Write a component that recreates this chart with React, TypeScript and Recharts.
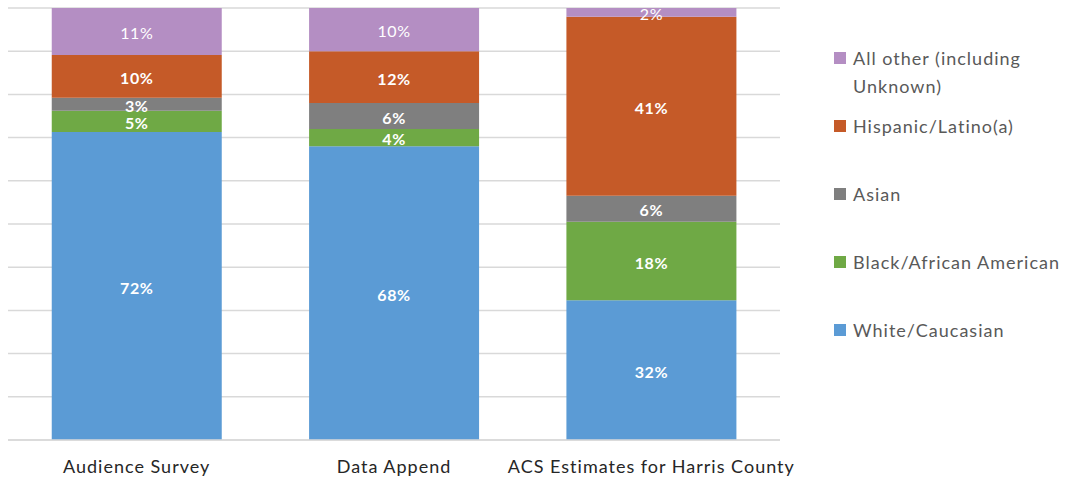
import { BarChart, Bar, XAxis, YAxis, CartesianGrid } from 'recharts';

const categories = ['Audience Survey', 'Data Append', 'ACS Estimates for Harris County'];
const white = [72, 68, 32];
const black = [5, 4, 18];
const asian = [3, 6, 6];
const hispanic = [10, 12, 41];
const other = [11, 10, 2];
const gridTicks = [0, 0.1, 0.2, 0.3, 0.4, 0.5, 0.6, 0.7, 0.8, 0.9, 1];

const series = [
  { key: 'white', name: 'White/Caucasian', color: '#5b9bd5', values: white, bold: true },
  { key: 'black', name: 'Black/African American', color: '#6fa945', values: black, bold: true },
  { key: 'asian', name: 'Asian', color: '#7f7f7f', values: asian, bold: true },
  { key: 'hispanic', name: 'Hispanic/Latino(a)', color: '#c55a28', values: hispanic, bold: true },
  { key: 'other', name: 'All other (including Unknown)', color: '#b48ec3', values: other, bold: false },
];

const data = categories.map((name, i) => {
  const row: Record<string, string | number> = { name };
  series.forEach((s) => {
    row[s.key] = s.values[i];
  });
  return row;
});

const FONT = 'Lato, "Open Sans", sans-serif';

function makeLabel(values: number[], bold: boolean) {
  return (props: any) => {
    const { x, y, width, height, index } = props;
    return (
      <text
        x={Number(x) + Number(width) / 2}
        y={Number(y) + Number(height) / 2 + 1}
        textAnchor="middle"
        dominantBaseline="central"
        fill="#ffffff"
        fontSize={16}
        fontWeight={bold ? 700 : 400}
        fontFamily={FONT}
        letterSpacing={0.6}
      >
        {values[index]}%
      </text>
    );
  };
}

// legend drawn as plain html next to the chart, top item first
function LegendBox() {
  const items = [...series].reverse();
  return (
    <div
      style={{
        position: 'absolute',
        left: 834,
        top: 44,
        fontFamily: FONT,
        fontSize: 18,
        color: '#595959',
        letterSpacing: 1,
      }}
    >
      {items.map((s, i) => (
        <div
          key={s.key}
          style={{
            position: 'absolute',
            left: 0,
            top: i * 68,
            display: 'flex',
            alignItems: 'flex-start',
            width: 230,
            lineHeight: '28px',
          }}
        >
          <span
            style={{
              display: 'inline-block',
              width: 12,
              height: 12,
              background: s.color,
              marginTop: 8,
              marginRight: 7,
              flexShrink: 0,
            }}
          />
          <span style={i === 0 ? { width: 185 } : { whiteSpace: 'nowrap' }}>{s.name}</span>
        </div>
      ))}
    </div>
  );
}

export default function App() {
  return (
    <div style={{ position: 'absolute', left: 0, top: 0, width: 1066, height: 484, background: '#fff' }}>
      <BarChart
        width={1066}
        height={484}
        data={data}
        stackOffset="expand"
        barCategoryGap="17%"
        margin={{ top: 8, right: 286, bottom: 14, left: 8 }}
      >
        <CartesianGrid vertical={false} stroke="#d9d9d9" strokeWidth={1.5} />
        <XAxis
          dataKey="name"
          height={30}
          tickLine={false}
          axisLine={{ stroke: '#d9d9d9', strokeWidth: 1.5 }}
          tick={{ fill: '#262626', fontSize: 18, fontFamily: FONT, letterSpacing: 1 }}
          tickMargin={14}
          interval={0}
        />
        <YAxis hide domain={[0, 1]} ticks={gridTicks} />
        {series.map((s) => (
          <Bar
            key={s.key}
            dataKey={s.key}
            name={s.name}
            stackId="a"
            fill={s.color}
            isAnimationActive={false}
            label={makeLabel(s.values, s.bold)}
          />
        ))}
      </BarChart>
      <LegendBox />
    </div>
  );
}
